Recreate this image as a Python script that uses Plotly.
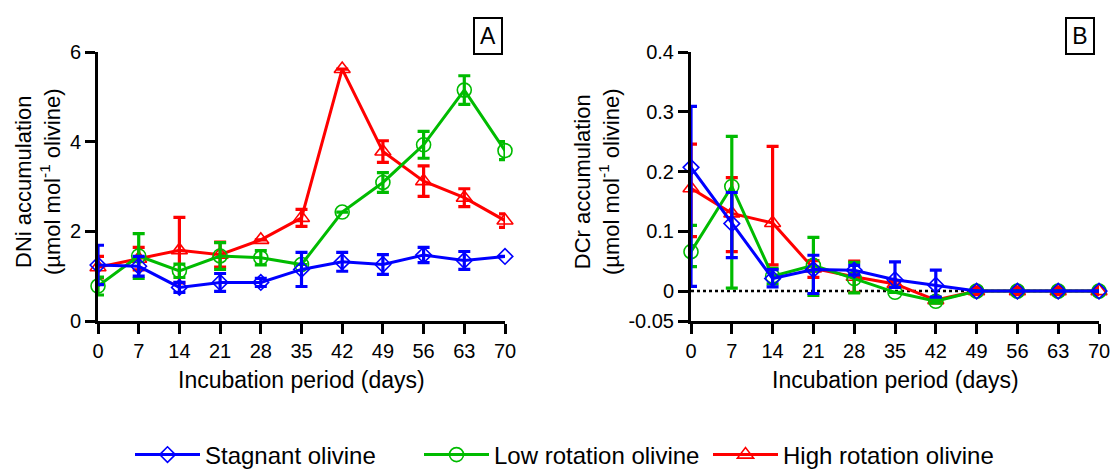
import plotly.graph_objects as go

days = [0, 7, 14, 21, 28, 35, 42, 49, 56, 63, 70]
x_ticks = days

# Panel A: DNi accumulation
stag_ni = [1.25, 1.22, 0.75, 0.86, 0.86, 1.15, 1.32, 1.26, 1.47, 1.35, 1.44]
stag_ni_err = [0.44, 0.22, 0.11, 0.20, 0.09, 0.38, 0.21, 0.22, 0.17, 0.20, 0.0]
low_ni = [0.78, 1.45, 1.12, 1.45, 1.41, 1.26, 2.43, 3.09, 3.93, 5.15, 3.80]
low_ni_err = [0.20, 0.50, 0.15, 0.30, 0.16, 0.0, 0.0, 0.22, 0.30, 0.32, 0.20]
high_ni = [1.20, 1.39, 1.58, 1.48, 1.81, 2.30, 5.62, 3.78, 3.12, 2.75, 2.24]
high_ni_err = [0.24, 0.25, 0.73, 0.28, 0.0, 0.19, 0.0, 0.24, 0.34, 0.20, 0.15]

# Panel B: DCr accumulation
stag_cr = [0.207, 0.113, 0.021, 0.036, 0.035, 0.019, 0.010, 0.0, 0.0, 0.0, 0.0]
stag_cr_plus = [0.102, 0.052, 0.015, 0.024, 0.008, 0.030, 0.025, 0.0, 0.0, 0.0, 0.0]
stag_cr_minus = [0.199, 0.057, 0.014, 0.040, 0.008, 0.013, 0.020, 0.0, 0.0, 0.0, 0.0]
low_cr = [0.066, 0.175, 0.025, 0.043, 0.021, -0.002, -0.017, 0.0, 0.0, 0.0, 0.0]
low_cr_plus = [0.044, 0.084, 0.013, 0.047, 0.027, 0.0, 0.003, 0.0, 0.0, 0.0, 0.0]
low_cr_minus = [0.025, 0.170, 0.013, 0.050, 0.024, 0.0, 0.003, 0.0, 0.0, 0.0, 0.0]
high_cr = [0.172, 0.130, 0.114, 0.038, 0.024, 0.012, -0.015, 0.0, 0.0, 0.0, 0.0]
high_cr_plus = [0.074, 0.060, 0.128, 0.013, 0.026, 0.005, 0.003, 0.006, 0.006, 0.006, 0.006]
high_cr_minus = [0.081, 0.064, 0.070, 0.015, 0.026, 0.005, 0.003, 0.006, 0.006, 0.006, 0.006]

names = ["Stagnant olivine", "Low rotation olivine", "High rotation olivine"]
colors = ["#0000FF", "#00BB00", "#FF0000"]
symbols = ["diamond-open", "circle-open", "triangle-up-open"]
msizes = [12, 14, 14]

FONT = "Liberation Sans, Arial, sans-serif"
W, H = 1113, 470

fig = go.Figure()

series_a = [(stag_ni, stag_ni_err, stag_ni_err), (low_ni, low_ni_err, low_ni_err), (high_ni, high_ni_err, high_ni_err)]
series_b = [(stag_cr, stag_cr_plus, stag_cr_minus), (low_cr, low_cr_plus, low_cr_minus), (high_cr, high_cr_plus, high_cr_minus)]

for i in [2, 1, 0]:
    for panel, (ser, xa, ya) in enumerate([(series_a, "x", "y"), (series_b, "x2", "y2")]):
        vals, plus, minus = ser[i]
        fig.add_trace(go.Scatter(
            x=days, y=vals, xaxis=xa, yaxis=ya,
            mode="lines+markers", name=names[i],
            legendrank=i + 1, showlegend=(panel == 0),
            line=dict(color=colors[i], width=3),
            marker=dict(symbol=symbols[i], size=msizes[i], color=colors[i],
                        line=dict(width=1.6, color=colors[i])),
            error_y=dict(type="data", array=plus, arrayminus=minus, symmetric=False,
                         color=colors[i], thickness=3.2, width=6),
            cliponaxis=False,
        ))

def px_x(p):
    return p / W

def px_y(p):
    return 1 - p / H

axis_common = dict(showline=True, linecolor="black", linewidth=3, ticks="outside",
                   ticklen=10, tickwidth=3, tickcolor="black", showgrid=False, zeroline=False,
                   tickfont=dict(family=FONT, size=20, color="black"), mirror=False)

fig.update_layout(
    width=W, height=H,
    margin=dict(l=0, r=0, t=0, b=0, autoexpand=False),
    paper_bgcolor="white", plot_bgcolor="white",
    font=dict(family=FONT, color="black"),
    xaxis=dict(domain=[px_x(98), px_x(505)], range=[0, 70], tickvals=x_ticks,
               anchor="y", **axis_common),
    yaxis=dict(domain=[px_y(321), px_y(52)], range=[0, 6], tickvals=[0, 2, 4, 6],
               anchor="x", **axis_common),
    xaxis2=dict(domain=[px_x(691), px_x(1099)], range=[0, 70], tickvals=x_ticks,
                anchor="y2", **axis_common),
    yaxis2=dict(domain=[px_y(321), px_y(52)], range=[-0.05, 0.4],
                tickvals=[-0.05, 0, 0.1, 0.2, 0.3, 0.4],
                ticktext=["-0.05", "0", "0.1", "0.2", "0.3", "0.4"],
                anchor="x2", **axis_common),
    legend=dict(orientation="h", x=px_x(130), xanchor="left", y=px_y(455), yanchor="middle",
                font=dict(family=FONT, size=24, color="black"), itemwidth=65,
                entrywidth=209, entrywidthmode="pixels",
                bgcolor="rgba(0,0,0,0)", traceorder="normal"),
    showlegend=True,
)

# zero reference line in panel B
fig.add_shape(type="line", xref="x2", yref="y2", x0=0, x1=70, y0=0, y1=0,
              line=dict(color="black", width=2.5, dash="dot"), layer="below")

ann = []
# axis titles
ann.append(dict(text="Incubation period (days)", x=(98 + 505) / 2 / W, y=px_y(380),
                xref="paper", yref="paper", showarrow=False, xanchor="center", yanchor="middle",
                font=dict(family=FONT, size=23)))
ann.append(dict(text="Incubation period (days)", x=(691 + 1099) / 2 / W, y=px_y(380),
                xref="paper", yref="paper", showarrow=False, xanchor="center", yanchor="middle",
                font=dict(family=FONT, size=23)))
ann.append(dict(text="DNi accumulation<br>(µmol mol<sup>-1</sup> olivine)", x=px_x(38), y=px_y(182),
                xref="paper", yref="paper", showarrow=False, xanchor="center", yanchor="middle",
                textangle=-90, font=dict(family=FONT, size=22)))
ann.append(dict(text="DCr accumulation<br>(µmol mol<sup>-1</sup> olivine)", x=px_x(597), y=px_y(182),
                xref="paper", yref="paper", showarrow=False, xanchor="center", yanchor="middle",
                textangle=-90, font=dict(family=FONT, size=22)))
# panel letters
for lab, cx in [("A", 488), ("B", 1080)]:
    ann.append(dict(text=lab, x=px_x(cx), y=px_y(36), xref="paper", yref="paper",
                    showarrow=False, xanchor="center", yanchor="middle",
                    width=26, height=34, borderpad=0, bordercolor="black", borderwidth=2,
                    bgcolor="white", font=dict(family=FONT, size=23)))
fig.update_layout(annotations=ann)

fig.write_html("out.html")
